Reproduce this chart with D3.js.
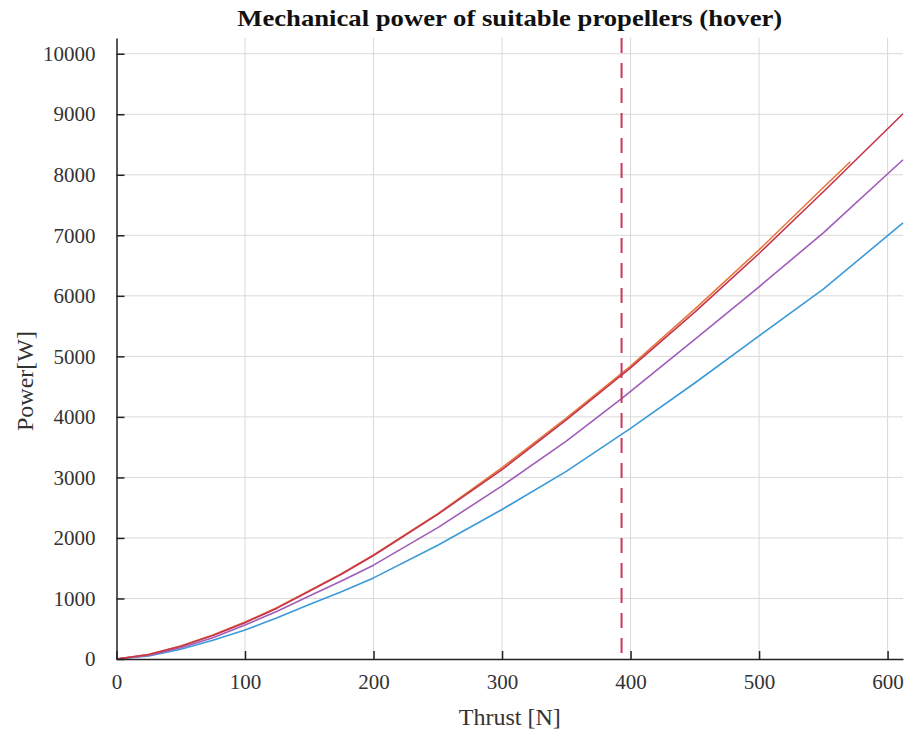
<!DOCTYPE html>
<html><head><meta charset="utf-8">
<script src="https://cdn.jsdelivr.net/npm/d3@7"></script>
<style>body{margin:0;background:#fff}svg{display:block}</style>
</head><body><div id="chart"></div>
<script>
const titleText = "Mechanical power of suitable propellers (hover)";
const xLabel = "Thrust [N]";
const yLabel = "Power[W]";
const xTicks = [0,100,200,300,400,500,600];
const yTicks = [0,1000,2000,3000,4000,5000,6000,7000,8000,9000,10000];
const xDomain = [0, 612];
const yDomain = [0, 10260];
const hoverThrust = 393;

const blueT = [0,25,50,75,100,125,150,175,200,250,300,350,393,400,450,500,550,612];
const blueP = [0,50,160,310,480,680,900,1110,1340,1880,2470,3100,3710,3810,4560,5339,6110,7207];
const purpleT = [0,25,50,75,100,125,150,175,200,250,300,350,393,400,450,500,550,612];
const purpleP = [0,60,185,350,560,790,1040,1290,1550,2170,2860,3600,4300,4420,5280,6150,7040,8248];
const orangeT = [0,25,50,75,100,125,150,175,200,250,300,350,400,450,500,550,571];
const orangeP = [0,75,215,395,610,850,1130,1410,1720,2400,3160,3980,4840,5780,6760,7790,8215];
const redT = [0,25,50,75,100,125,150,175,200,250,300,350,393,400,450,500,550,612];
const redP = [0,75,210,390,600,840,1120,1400,1710,2390,3130,3950,4690,4810,5730,6700,7720,9008];

const series = [
  {t: blueT, p: blueP, color: "#3a9ad9"},
  {t: purpleT, p: purpleP, color: "#a05cb8"},
  {t: orangeT, p: orangeP, color: "#e5773a"},
  {t: redT, p: redP, color: "#c5354d"}
];

const FONT = "'Liberation Serif','Times New Roman',serif";
const W = 906, H = 733;
const m = {l:116.5, r:3, t:38, b:74};
const svg = d3.select("#chart").append("svg").attr("width", W).attr("height", H)
  .style("font-family", FONT);
const x = d3.scaleLinear().domain(xDomain).range([m.l, W - m.r]);
const y = d3.scaleLinear().domain(yDomain).range([H - m.b, m.t]);

// grid
const g = svg.append("g");
g.selectAll(".gx").data(xTicks.filter(d=>d>0)).enter().append("line")
  .attr("x1", d=>x(d)).attr("x2", d=>x(d)).attr("y1", y(yDomain[0])).attr("y2", y(yDomain[1]))
  .attr("stroke", "#d9d9d9").attr("stroke-width", 1);
g.selectAll(".gy").data(yTicks.filter(d=>d>0)).enter().append("line")
  .attr("y1", d=>y(d)).attr("y2", d=>y(d)).attr("x1", x(xDomain[0])).attr("x2", x(xDomain[1]))
  .attr("stroke", "#d9d9d9").attr("stroke-width", 1);

// lines
const line = d3.line().x(d=>x(d[0])).y(d=>y(d[1]));
series.forEach(s => {
  svg.append("path").datum(s.t.map((t,i)=>[t, s.p[i]]))
    .attr("d", line).attr("fill","none").attr("stroke", s.color).attr("stroke-width", 1.6)
    .attr("stroke-linejoin","round");
});

// hover line
svg.append("line").attr("x1", x(hoverThrust)).attr("x2", x(hoverThrust))
  .attr("y1", y(yDomain[1])).attr("y2", y(0))
  .attr("stroke", "#c8385a").attr("stroke-width", 2).attr("stroke-dasharray", "15,10");

// axes
const fmt = d3.format("d");
const xAxis = d3.axisBottom(x).tickValues(xTicks).tickFormat(fmt).tickSizeInner(-8).tickSizeOuter(0).tickPadding(15);
const yAxis = d3.axisLeft(y).tickValues(yTicks).tickFormat(fmt).tickSizeInner(-8).tickSizeOuter(0).tickPadding(21);
const gx = svg.append("g").attr("transform", `translate(0,${y(0)})`).call(xAxis);
const gy = svg.append("g").attr("transform", `translate(${x(0)},0)`).call(yAxis);
[gx, gy].forEach(a => {
  a.attr("font-family", null);
  a.select(".domain").attr("stroke", "#222").attr("stroke-width", 1.5);
  a.selectAll(".tick line").attr("stroke", "#222").attr("stroke-width", 1.5);
  a.selectAll(".tick text").style("font-family", FONT).style("font-size", "21px").attr("fill", "#333");
});

svg.append("text").attr("x", (x(xDomain[0]) + x(xDomain[1]))/2).attr("y", 26)
  .attr("text-anchor","middle").attr("font-weight","bold").style("font-size", "23px")
  .attr("textLength", 545).attr("lengthAdjust", "spacingAndGlyphs").attr("fill","#111").text(titleText);
svg.append("text").attr("x", (x(xDomain[0]) + x(xDomain[1]))/2).attr("y", 725)
  .attr("text-anchor","middle").style("font-size", "24px").attr("fill","#333").text(xLabel);
svg.append("text").attr("transform", `translate(33,381) rotate(-90)`)
  .attr("text-anchor","middle").style("font-size", "24px").attr("fill","#333").text(yLabel);
</script></body></html>
